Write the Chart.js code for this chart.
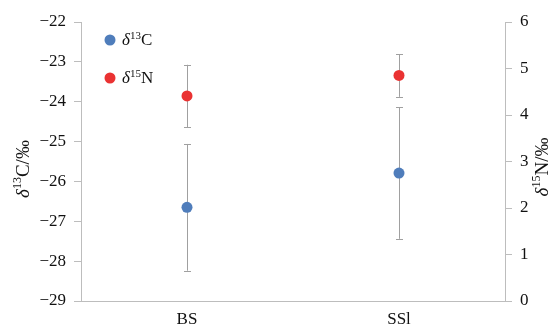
<!DOCTYPE html>
<html>
<head>
<meta charset="UTF-8">
<title>δ13C / δ15N</title>
<script src="https://cdn.jsdelivr.net/npm/chart.js"></script>
<style>
  html, body { margin: 0; padding: 0; background: #fff; }
  #wrap { width: 553px; height: 328px; }
</style>
</head>
<body>
<div id="wrap"><canvas id="chart" width="553" height="328"></canvas></div>
<script>
// data
const categories = ['BS', 'SSl'];
const c13Mean = [-26.65, -25.79];
const c13Err = [1.59, 1.65];
const n15Mean = [4.41, 4.85];
const n15Err = [0.67, 0.46];
const c13Ticks = [-29, -28, -27, -26, -25, -24, -23, -22];
const n15Ticks = [0, 1, 2, 3, 4, 5, 6];

const SERIF = '"Liberation Serif", "DejaVu Serif", serif';
const axisColor = '#bdbdbd';
const blue = '#4f7dbb';
const red = '#ea3232';

// draws text runs like δ + superscript + rest
function richWidth(ctx, parts) {
    let w = 0;
    parts.forEach(p => { ctx.font = p.font; w += ctx.measureText(p.t).width; });
    return w;
}
function drawRich(ctx, parts, x, y) {
    let cx = x;
    parts.forEach(p => {
        ctx.font = p.font;
        ctx.fillText(p.t, cx, y + (p.dy || 0));
        cx += ctx.measureText(p.t).width;
    });
}
function isoLabel(mass, rest, size) {
    return [
        { t: 'δ', font: 'italic ' + size + 'px ' + SERIF },
        { t: mass, font: Math.round(size * 0.62) + 'px ' + SERIF, dy: -size * 0.3 },
        { t: rest, font: size + 'px ' + SERIF }
    ];
}

const errorBars = {
    id: 'errorBars',
    beforeDatasetsDraw(chart) {
        const ctx = chart.ctx;
        const errs = [c13Err, n15Err];
        ctx.save();
        ctx.strokeStyle = '#a0a0a0';
        ctx.lineWidth = 1;
        chart.data.datasets.forEach((ds, i) => {
            const scale = chart.scales[ds.yAxisID];
            chart.getDatasetMeta(i).data.forEach((pt, j) => {
                const top = scale.getPixelForValue(ds.data[j] + errs[i][j]);
                const bot = scale.getPixelForValue(ds.data[j] - errs[i][j]);
                const x = Math.round(pt.x) + 0.5;
                ctx.beginPath();
                ctx.moveTo(x, top); ctx.lineTo(x, bot);
                ctx.moveTo(x - 3.5, Math.round(top) + 0.5); ctx.lineTo(x + 3.5, Math.round(top) + 0.5);
                ctx.moveTo(x - 3.5, Math.round(bot) + 0.5); ctx.lineTo(x + 3.5, Math.round(bot) + 0.5);
                ctx.stroke();
            });
        });
        ctx.restore();
    }
};

const decorations = {
    id: 'decorations',
    afterDraw(chart) {
        const ctx = chart.ctx;
        ctx.save();
        ctx.fillStyle = '#111';
        ctx.textBaseline = 'middle';

        // legend
        const items = [
            { color: blue, parts: isoLabel('13', 'C', 17), y: 40 },
            { color: red, parts: isoLabel('15', 'N', 17), y: 78 }
        ];
        items.forEach(it => {
            ctx.beginPath();
            ctx.fillStyle = it.color;
            ctx.arc(110, it.y, 5.5, 0, Math.PI * 2);
            ctx.fill();
            ctx.fillStyle = '#111';
            drawRich(ctx, it.parts, 122, it.y + 1);
        });

        // axis titles
        const titles = [
            { parts: isoLabel('13', 'C/‰', 19), x: 24, y: 169 },
            { parts: isoLabel('15', 'N/‰', 19), x: 543, y: 167 }
        ];
        titles.forEach(t => {
            ctx.save();
            ctx.translate(t.x, t.y);
            ctx.rotate(-Math.PI / 2);
            const w = richWidth(ctx, t.parts);
            drawRich(ctx, t.parts, -w / 2, 0);
            ctx.restore();
        });
        ctx.restore();
    }
};

const tickFont = { family: SERIF, size: 17 };

new Chart(document.getElementById('chart'), {
    type: 'line',
    data: {
        labels: categories,
        datasets: [
            {
                label: 'δ13C',
                data: c13Mean,
                yAxisID: 'y',
                showLine: false,
                pointRadius: 5.5,
                pointBackgroundColor: blue,
                pointBorderWidth: 0
            },
            {
                label: 'δ15N',
                data: n15Mean,
                yAxisID: 'y1',
                showLine: false,
                pointRadius: 5.5,
                pointBackgroundColor: red,
                pointBorderWidth: 0
            }
        ]
    },
    options: {
        responsive: false,
        animation: false,
        layout: { padding: { top: 22, left: 0, right: 0, bottom: 0 } },
        plugins: { legend: { display: false }, tooltip: { enabled: false } },
        scales: {
            x: {
                offset: true,
                grid: { display: false, drawTicks: false },
                border: { display: true, color: axisColor },
                ticks: { color: '#111', font: tickFont, padding: 8 },
                afterFit(s) { s.height = 27; }
            },
            y: {
                position: 'left',
                min: -29,
                max: -22,
                afterBuildTicks(s) { s.ticks = c13Ticks.map(v => ({ value: v })); },
                grid: { drawOnChartArea: false, drawTicks: true, tickLength: 7, color: axisColor },
                border: { display: true, color: axisColor },
                ticks: {
                    color: '#111',
                    font: tickFont,
                    padding: 8,
                    callback: v => String(v).replace('-', '−')
                },
                afterFit(s) { s.width = 81; }
            },
            y1: {
                position: 'right',
                min: 0,
                max: 6,
                afterBuildTicks(s) { s.ticks = n15Ticks.map(v => ({ value: v })); },
                grid: { drawOnChartArea: false, drawTicks: true, tickLength: 7, color: axisColor },
                border: { display: true, color: axisColor },
                ticks: { color: '#111', font: tickFont, padding: 8 },
                afterFit(s) { s.width = 48; }
            }
        }
    },
    plugins: [errorBars, decorations]
});
</script>
</body>
</html>
